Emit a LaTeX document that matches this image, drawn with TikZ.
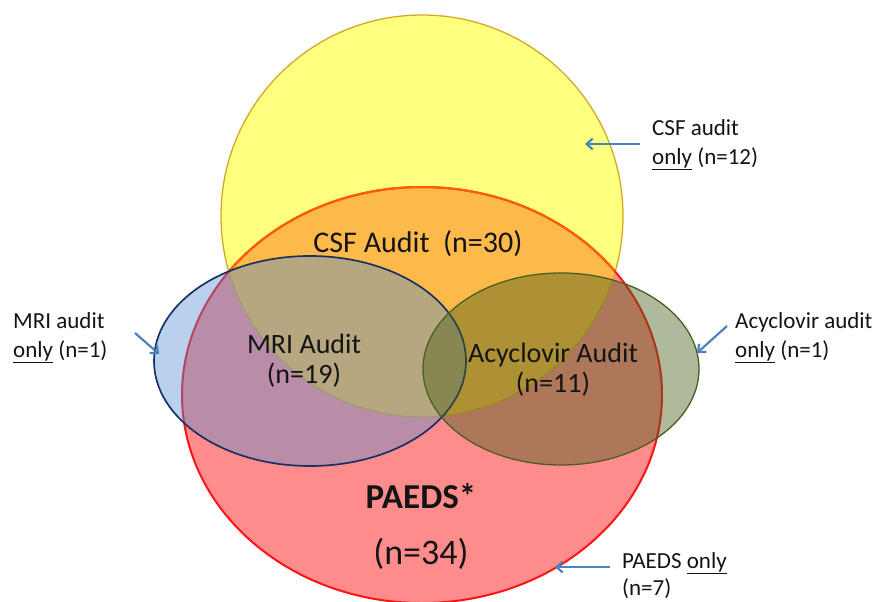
\documentclass[tikz,border=0pt]{standalone}
\usepackage{fontspec}
\setmainfont{Carlito}
\usepackage{xcolor}
\usetikzlibrary{arrows.meta}

\definecolor{csfyellow}{RGB}{255,255,128}
\definecolor{csfedge}{RGB}{214,168,40}
\definecolor{paedsred}{RGB}{255,140,140}
\definecolor{paedsedge}{RGB}{250,20,20}
\definecolor{overlaporange}{RGB}{253,185,74}
\definecolor{overlapedge}{RGB}{255,95,0}
\definecolor{mriblue}{RGB}{80,140,210}
\definecolor{mriedge}{RGB}{25,50,100}
\definecolor{acygreen}{RGB}{71,94,25}
\definecolor{acyedge}{RGB}{75,95,35}
\definecolor{arrowblue}{RGB}{79,129,189}

\begin{document}
\begin{tikzpicture}[x=1pt,y=-1pt,
    setlabel/.style={font=\fontsize{28}{30}\selectfont,align=center,inner sep=0pt,text=black!92},
    biglabel/.style={font=\fontsize{36}{40}\selectfont,inner sep=0pt,text=black!92},
    sidelabel/.style={font=\fontsize{23}{29}\selectfont,align=left,anchor=north west,inner sep=0pt,text=black!92},
    pointer/.style={arrowblue,line width=2.2pt,-{Straight Barb[length=6pt,width=11pt]}}]
        \useasboundingbox (0,0) rectangle (876,602);

        \fill [csfyellow] (422,216) circle [radius=201pt];
        \fill [paedsred] (422,395) ellipse [x radius=240pt, y radius=208pt];
        \begin{scope}
            \clip (422,216) circle [radius=201pt];
            \fill [overlaporange] (422,395) ellipse [x radius=240pt, y radius=208pt];
        \end{scope}
        \draw [csfedge, line width=1.3pt] (422,216) circle [radius=201pt];
        \draw [paedsedge, line width=2pt] (422,395) ellipse [x radius=240pt, y radius=208pt];
        \begin{scope}
            \clip (422,216) circle [radius=201pt];
            \draw [overlapedge, line width=2pt] (422,395) ellipse [x radius=240pt, y radius=208pt];
        \end{scope}

        \fill [mriblue, fill opacity=0.4] (310,361) ellipse [x radius=156pt, y radius=105pt];
        \draw [mriedge, line width=1.7pt] (310,361) ellipse [x radius=156pt, y radius=105pt];
        \fill [acygreen, fill opacity=0.435] (561,369) ellipse [x radius=138pt, y radius=96pt];
        \draw [acyedge, line width=1.3pt] (561,369) ellipse [x radius=138pt, y radius=96pt];

        \node (csfset) [setlabel, font=\fontsize{30}{32}\selectfont, anchor=base] at (418,252) {CSF Audit~~(n=30)};
        \node (mriset) [setlabel] at (304,361) {MRI Audit\\(n=19)};
        \node (acyset) [setlabel] at (553,370) {Acyclovir Audit\\(n=11)};
        \node (paeds) [biglabel, font=\fontsize{35}{40}\selectfont\bfseries, anchor=base] at (421,508) {PAEDS*};
        \node (paedsn) [biglabel, anchor=base] at (421,564) {(n=34)};

        \node (csfonly) [sidelabel] at (652,119) {CSF audit\\\underline{only} (n=12)};
        \node (mrionly) [sidelabel] at (13,312) {MRI audit\\\underline{only} (n=1)};
        \node (acyonly) [sidelabel] at (735,312) {Acyclovir audit\\\underline{only} (n=1)};
        \node (paedsonly) [sidelabel, font=\fontsize{23}{27}\selectfont] at (622,552) {PAEDS \underline{only}\\(n=7)};

        \coordinate (csftail) at (640,144);
        \coordinate (csftip) at (585,144);
        \coordinate (mritail) at (135,333);
        \coordinate (mritip) at (159,354);
        \coordinate (acytail) at (727,326);
        \coordinate (acytip) at (697,353);
        \coordinate (paedstail) at (610,567);
        \coordinate (paedstip) at (555,567);

        \draw [pointer] (csftail) -- (csftip);
        \draw [pointer] (mritail) -- (mritip);
        \draw [pointer] (acytail) -- (acytip);
        \draw [pointer] (paedstail) -- (paedstip);
    \end{tikzpicture}
\end{document}
